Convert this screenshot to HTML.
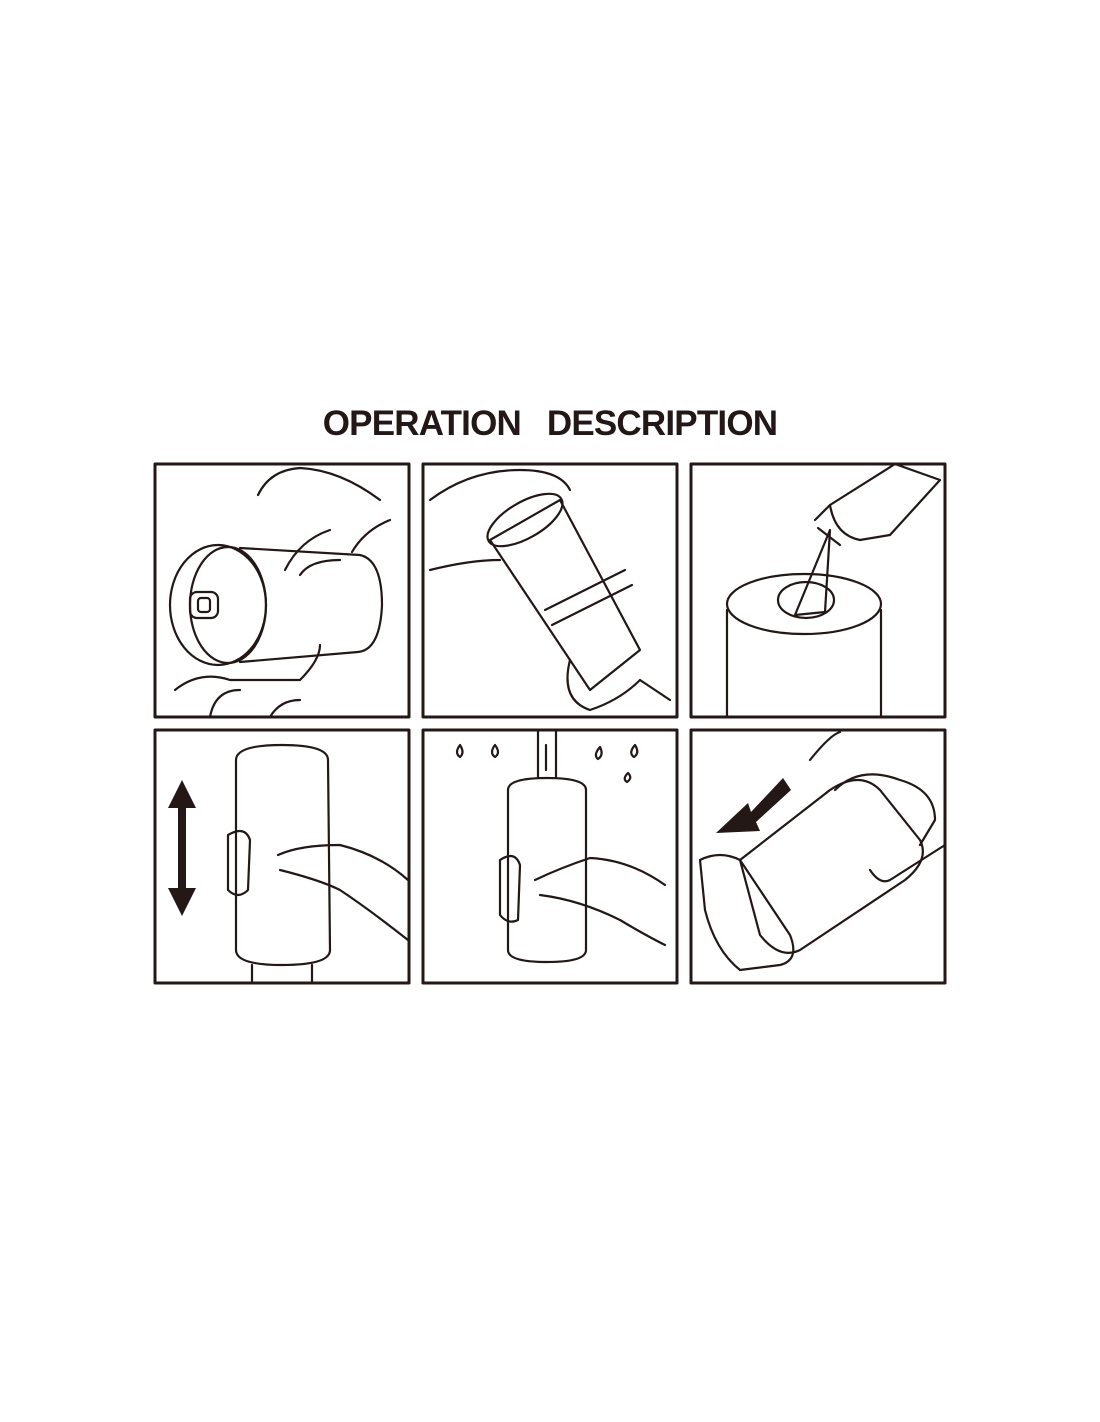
<!DOCTYPE html>
<html><head><meta charset="utf-8"><style>
html,body{margin:0;padding:0;background:#fff;}
body{width:1100px;height:1422px;position:relative;overflow:hidden;}
.t{position:absolute;left:0;width:1100px;top:404px;text-align:center;font-family:"Liberation Sans",sans-serif;font-weight:bold;font-size:35px;color:#231815;letter-spacing:-0.8px;word-spacing:4px;}
svg{position:absolute;left:0;top:0;}
</style></head><body>
<div class="t">OPERATION&nbsp; DESCRIPTION</div>
<svg width="1100" height="1422" viewBox="0 0 1100 1422" fill="none" stroke="#231815" stroke-width="2.2" stroke-linecap="round" stroke-linejoin="round">
<g stroke-width="3">
<rect x="155" y="464" width="254" height="253"/>
<rect x="423" y="464" width="254" height="253"/>
<rect x="691" y="464" width="254" height="253"/>
<rect x="155" y="730" width="254" height="253"/>
<rect x="423" y="730" width="254" height="253"/>
<rect x="691" y="730" width="254" height="253"/>
</g>
<!-- panel 1 -->
<ellipse cx="218" cy="605" rx="48" ry="60"/>
<ellipse cx="228" cy="605" rx="38" ry="58"/>
<path d="M240 548 L360 555 Q382 560 382 605 Q380 650 358 652 L240 662"/>
<rect x="190" y="592" width="28" height="26" rx="7"/><rect x="198" y="598" width="12" height="14" rx="3"/>
<path d="M258 495 Q270 470 300 468 Q340 470 380 500 M285 570 Q300 540 330 530 M300 575 Q310 560 340 560 M352 552 Q365 530 390 520"/>
<path d="M175 690 Q200 670 230 680 L300 680 Q320 660 320 645 M210 717 Q215 690 240 690 M270 717 Q280 700 300 700"/>
<!-- panel 2 -->
<path d="M490 540 L560 500 L640 650 L590 690 Z"/>
<ellipse cx="525" cy="520" rx="42" ry="18" transform="rotate(-30 525 520)"/>
<path d="M545 610 L625 570 M552 625 L632 585"/>
<path d="M430 500 Q470 470 520 470 Q560 470 570 490 M430 570 Q470 560 500 560 M570 660 Q560 700 590 710 Q620 700 640 680 L670 700"/>
<!-- panel 3 -->
<path d="M727 717 L727 610 M881 717 L881 610"/>
<ellipse cx="804" cy="604" rx="77" ry="30"/>
<ellipse cx="806" cy="600" rx="28" ry="18"/>
<path d="M830 530 L795 615 L825 612 Z"/>
<path d="M830 505 L895 464 L940 480 L890 535 L860 540 Q835 535 830 505 Z"/>
<path d="M815 520 L830 505 M818 528 L840 545"/>
<!-- panel 4 -->
<path d="M236 760 Q236 745 282 745 Q328 745 328 760 L330 950 Q330 965 282 965 Q236 965 236 950 Z"/>
<path d="M252 965 L252 983 M312 965 L312 983"/>
<path d="M228 835 Q245 825 250 840 L248 890 Q238 900 228 890 Z"/>
<path d="M278 855 Q300 845 340 845 Q380 855 408 880 M280 870 Q320 880 340 890 Q370 910 408 940"/>
<g fill="#231815" stroke="none">
<polygon points="182,780 168,808 178,808 178,888 168,888 182,916 196,888 186,888 186,808 196,808"/>
<polygon points="716,833 748,803 751,812 783,778 791,790 756,822 760,831"/>
</g>
<!-- panel 5 -->
<path d="M508 790 Q508 778 547 778 Q586 778 586 790 L586 950 Q586 962 547 962 Q508 962 508 950 Z"/>
<path d="M538 730 L538 778 M556 730 L556 778 M546 745 L546 770"/>
<path d="M500 860 Q515 850 520 865 L518 920 Q508 925 500 915 Z"/>
<path d="M535 880 Q560 868 590 858 Q630 860 665 885 M540 895 Q580 900 620 920 Q645 935 665 945"/>
<path d="M460 745 q5 8 0 12 q-6 -4 0 -12 M495 745 q6 8 0 12 q-6 -4 0 -12 M600 747 q4 8 -2 12 q-5 -4 2 -12 M635 745 q5 8 -1 12 q-6 -4 1 -12 M628 773 q5 5 -1 9 q-5 -3 1 -9"/>
<!-- panel 6 -->
<path d="M740 860 L830 790 Q860 770 880 790 L920 840 Q930 860 905 880 L800 950 Q780 960 760 935 Z"/>
<path d="M835 790 Q860 765 900 780 Q935 790 935 820 L920 845"/>
<path d="M700 860 Q720 850 740 860 L790 935 Q800 960 780 965 L740 970 Q715 950 705 910 Z"/>
<path d="M810 760 Q830 735 840 732 M870 870 Q880 885 890 880 L945 845"/>
</svg>
</body></html>
